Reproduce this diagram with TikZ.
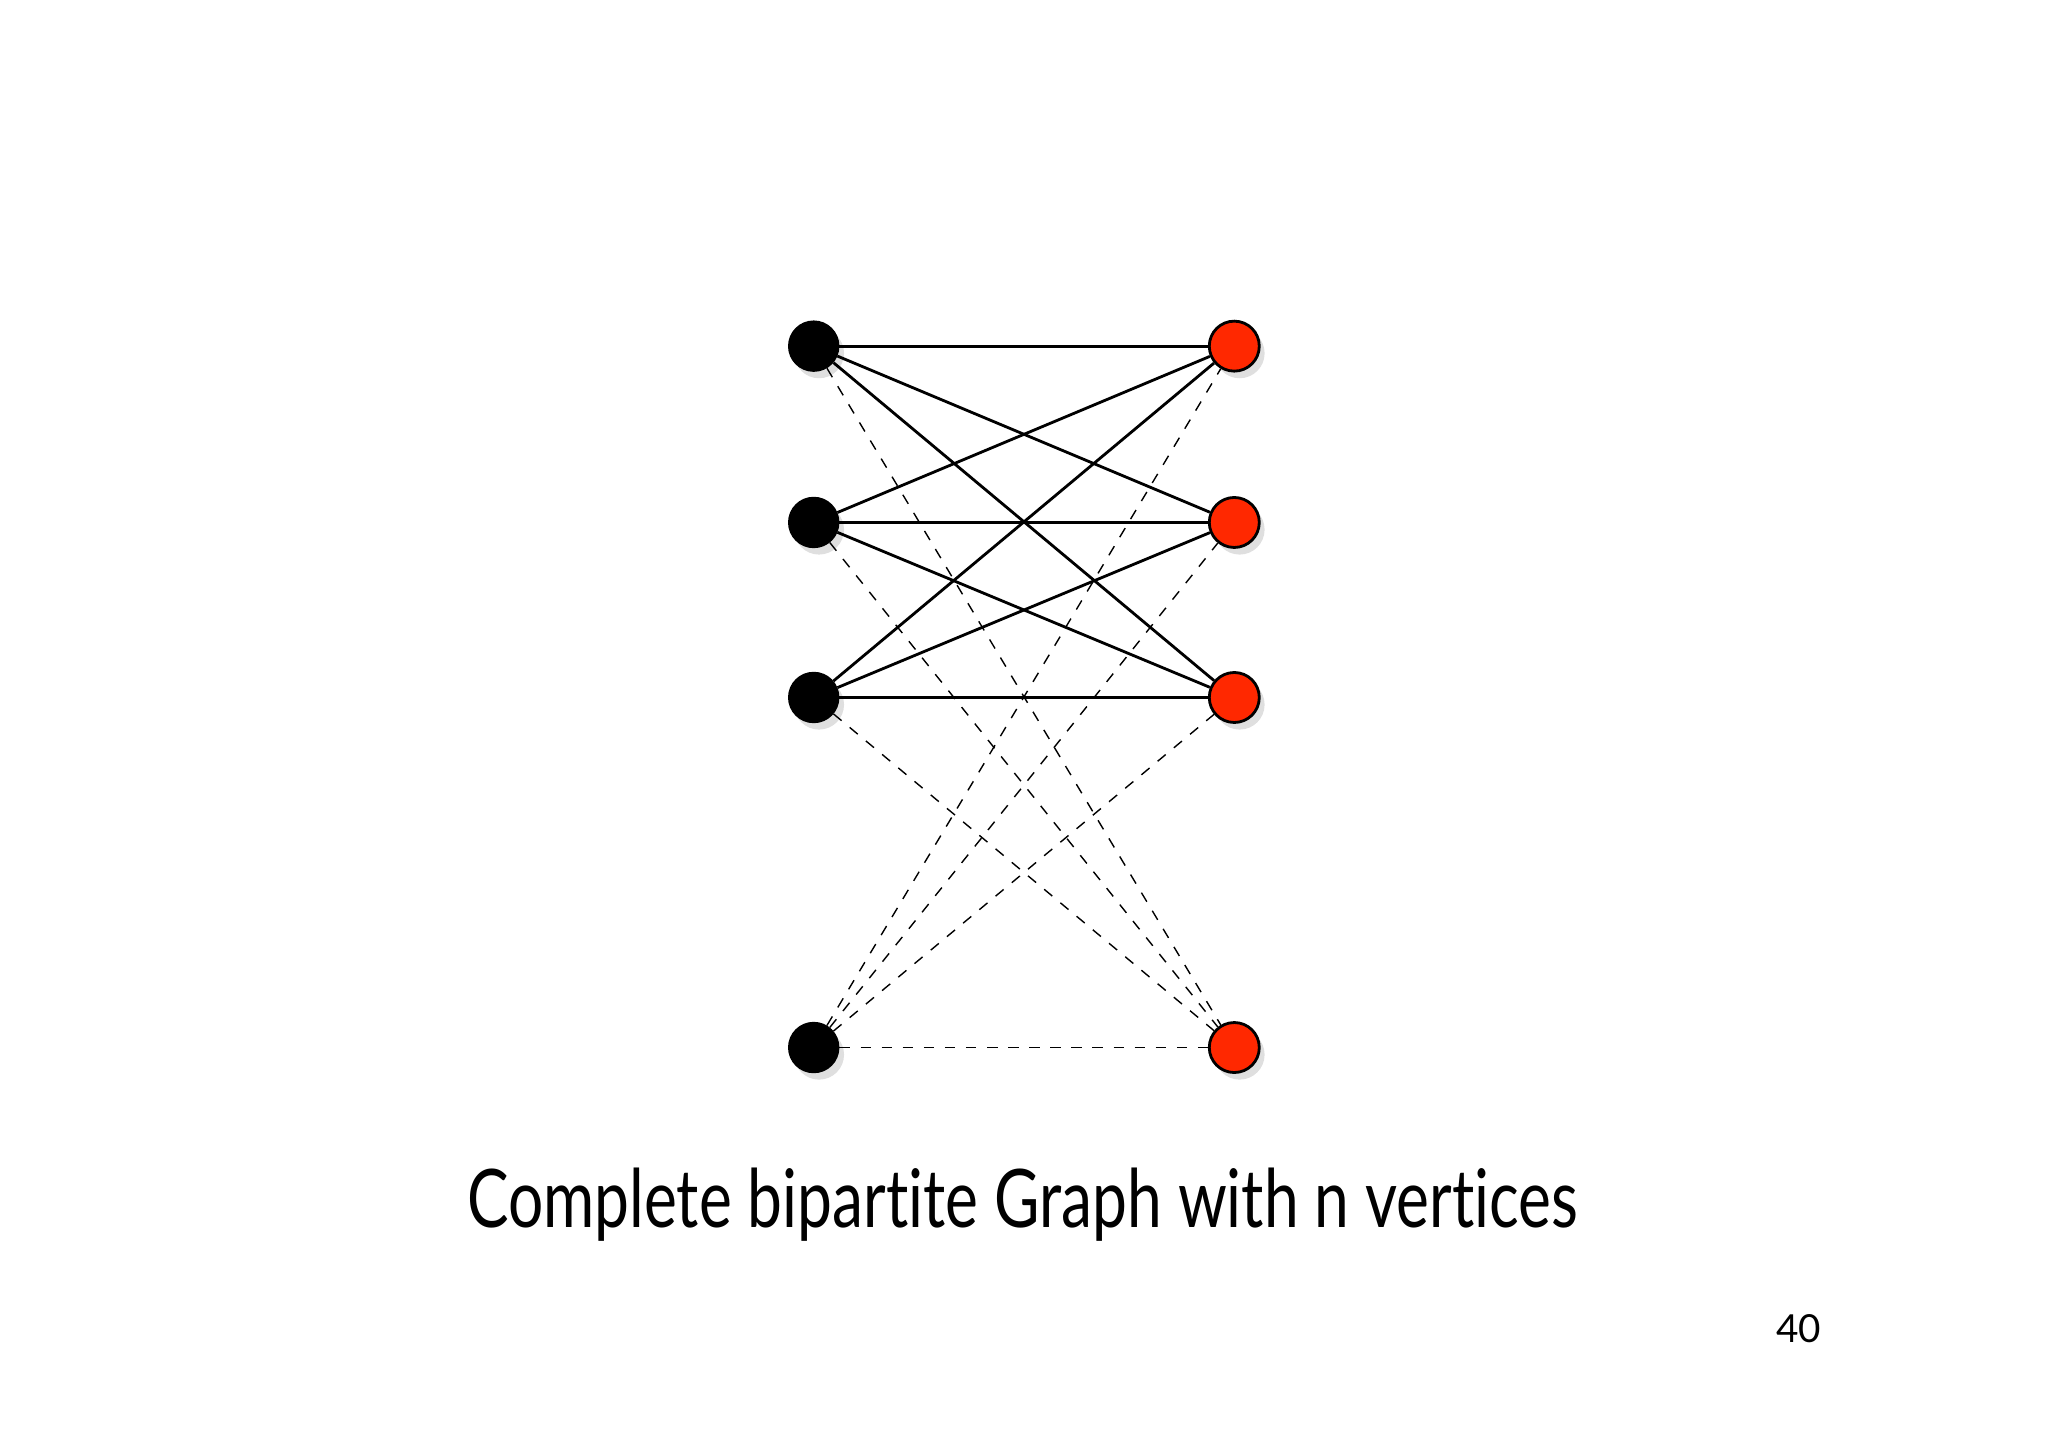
\documentclass[tikz,border=0pt]{standalone}
\usepackage{fontspec}
\setmainfont{Lato}[Ligatures=NoCommon]
\usetikzlibrary{shadows}
\definecolor{vred}{RGB}{255,40,0}
\tikzset{
  lvert/.style={circle, fill=black, draw=black, minimum size=0.5cm, inner sep=0pt, drop shadow={opacity=0.25, shadow xshift=0.3ex, shadow yshift=-0.4ex}},
  rvert/.style={circle, fill=vred, draw=black, thick, minimum size=0.5cm, inner sep=0pt, drop shadow={opacity=0.25, shadow xshift=0.3ex, shadow yshift=-0.4ex}},
  edge/.style={thick},
  dedge/.style={dashed, thin}
}
\begin{document}
\begin{tikzpicture}[x=0.01306cm, y=-0.01306cm]
\useasboundingbox (0,0) rectangle (1568,1108);
\node (l1) [lvert] at (623,265) {};
\node (l2) [lvert] at (623,400) {};
\node (l3) [lvert] at (623,534) {};
\node (l4) [lvert] at (623,802) {};
\node (r1) [rvert] at (945,265) {};
\node (r2) [rvert] at (945,400) {};
\node (r3) [rvert] at (945,534) {};
\node (r4) [rvert] at (945,802) {};

\foreach \i in {1,2,3}
  \foreach \j in {1,2,3}
    \draw [edge] (l\i) -- (r\j);
\foreach \i in {1,2,3,4}
  \draw [dedge] (l\i) -- (r4);
\foreach \j in {1,2,3}
  \draw [dedge] (l4) -- (r\j);

\node (caption) at (783,922) {\scalebox{0.77}[1]{\fontsize{23}{28}\selectfont Complete bipartite Graph with n vertices}};
\node (page) at (1377,1017) {\fontsize{11}{13}\selectfont 40};
\end{tikzpicture}
\end{document}
